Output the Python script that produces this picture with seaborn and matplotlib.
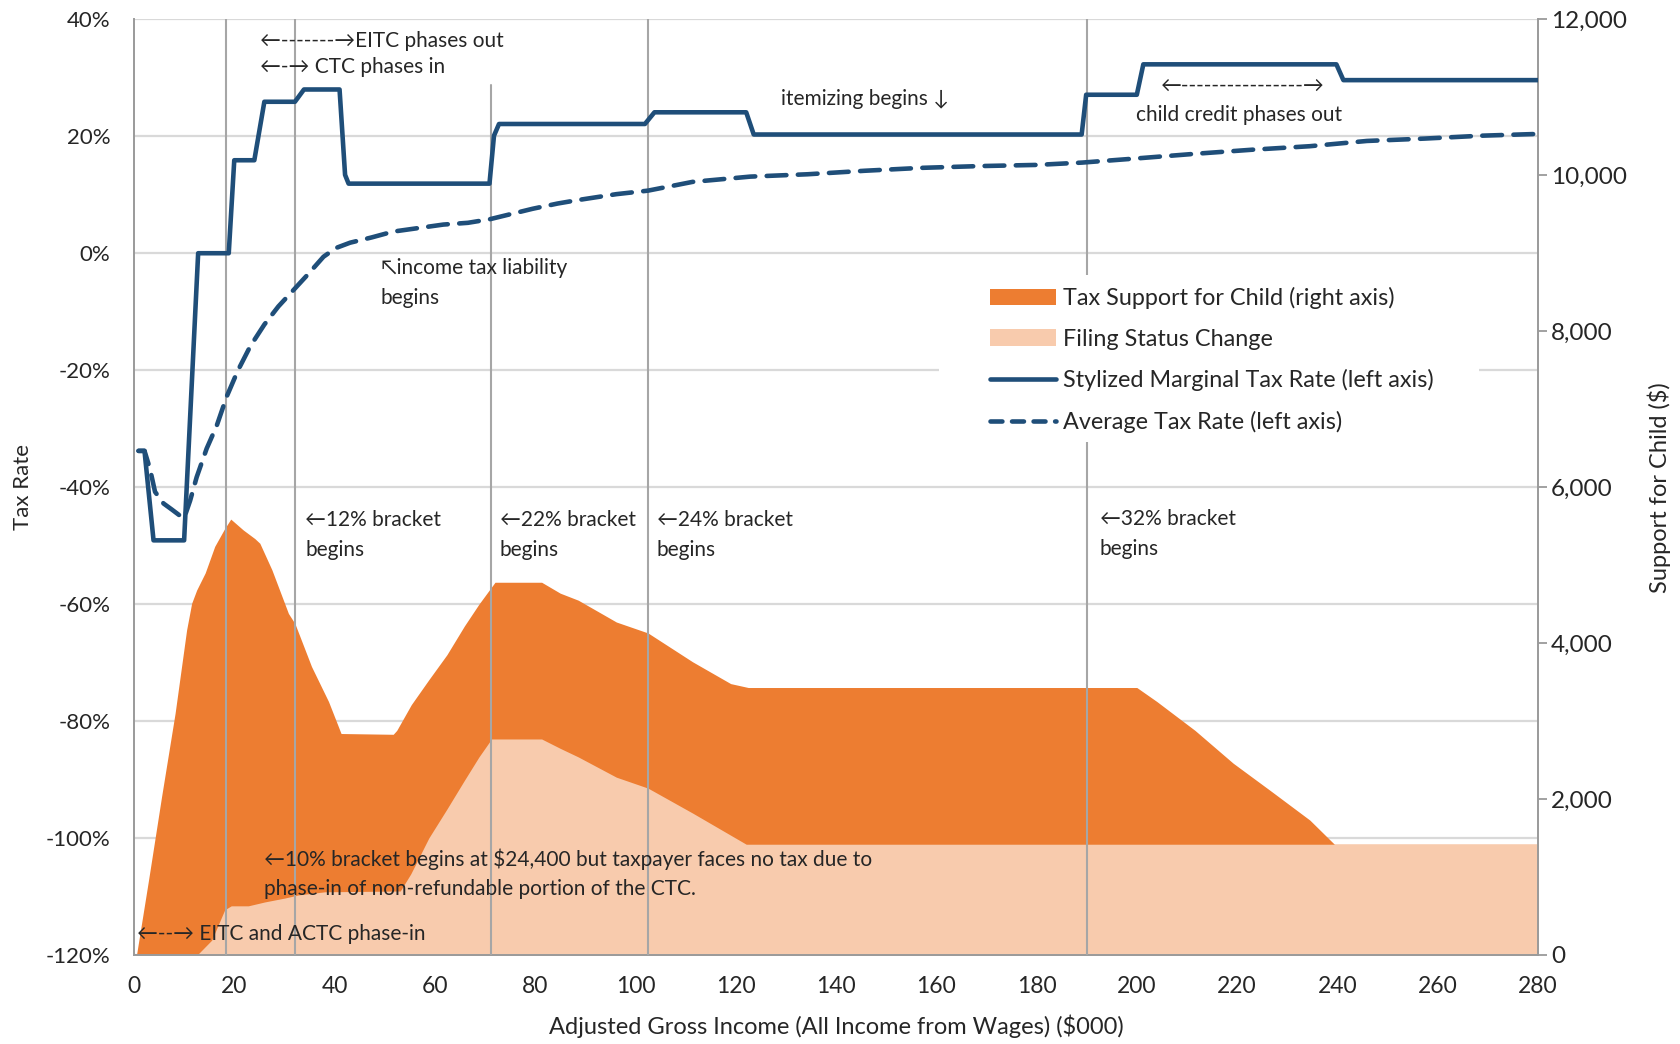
import matplotlib
matplotlib.use("Agg")
import matplotlib.pyplot as plt
import seaborn as sns
from matplotlib.patches import Patch, Rectangle
from matplotlib.lines import Line2D
from matplotlib.ticker import FuncFormatter

# ---------------- data (income in $000) ----------------
mtr_income = [0.9, 2.1, 3.9, 10.0, 12.8, 18.9, 20.0, 24.0, 26.0, 32.1, 33.9, 41.0, 42.1, 42.8,
              70.9, 71.8, 72.8, 101.9, 103.8, 122.1, 123.6, 189.0, 189.9, 200.0, 201.3,
              239.8, 241.2, 280.0]
mtr_rate = [-33.8, -33.8, -49.1, -49.1, 0.0, 0.0, 15.9, 15.9, 25.9, 25.9, 28.0, 28.0, 13.4, 11.9,
            11.9, 20.1, 22.1, 22.1, 24.1, 24.1, 20.3, 20.3, 27.1, 27.1, 32.3,
            32.3, 29.6, 29.6]

atr_income = [0.9, 2.1, 3.2, 4.2, 5.9, 7.5, 9.2, 10.0, 11.2, 12.5, 14.5, 16.5, 18.5, 20.7, 23.2,
              26.0, 28.8, 31.7, 34.6, 37.8, 40.3, 43.1, 47.4, 51.7, 56.7, 61.7, 66.6, 70.9,
              75.2, 79.5, 84.5, 88.6, 96.2, 102.5, 111.4, 122.9, 134.3, 145.7, 157.1, 168.6,
              180.0, 189.1, 199.8, 211.6, 223.0, 234.5, 245.9, 257.3, 268.8, 280.0]
atr_rate = [-33.8, -33.8, -36.9, -40.8, -42.8, -43.8, -44.9, -45.3, -42.3, -38.3, -33.4, -29.5,
            -24.5, -20.1, -15.9, -12.2, -9.1, -6.4, -3.7, -0.6, 0.9, 1.8, 2.7, 3.7, 4.3, 4.9,
            5.2, 5.8, 6.7, 7.6, 8.5, 9.1, 10.1, 10.7, 12.2, 13.1, 13.5, 14.1, 14.6, 14.9,
            15.1, 15.5, 16.2, 17.0, 17.7, 18.3, 19.2, 19.6, 20.1, 20.4]

support_income = [0.5, 2.9, 5.5, 8.2, 10.5, 11.5, 12.5, 14.2, 16.1, 18.1, 19.3, 21.8, 24.1, 25.1,
                  27.5, 30.8, 32.1, 35.4, 38.8, 41.3, 51.7, 52.4, 55.3, 58.8, 62.4, 65.9, 68.8,
                  72.0, 81.3, 85.0, 88.6, 96.2, 102.5, 111.4, 119.0, 122.5, 200.0, 204.0, 211.6,
                  219.2, 226.8, 234.5, 239.4, 280.0]
support_value = [0, 960, 2030, 3100, 4170, 4510, 4680, 4900, 5240, 5470, 5590, 5450, 5340, 5280,
                 4940, 4380, 4250, 3700, 3250, 2840, 2830, 2880, 3210, 3530, 3850, 4220, 4500,
                 4780, 4780, 4640, 4550, 4270, 4130, 3760, 3480, 3430, 3430, 3250, 2880,
                 2460, 2100, 1730, 1420, 1420]

filing_income = [12.6, 15.5, 18.1, 19.4, 22.8, 26.1, 30.1, 32.8, 38.1, 53.1, 55.2, 58.8, 62.4,
                 65.9, 68.8, 71.3, 81.3, 85.0, 88.6, 96.2, 102.5, 111.4, 122.1, 280.0]
filing_value = [0, 190, 580, 630, 630, 680, 730, 770, 810, 820, 1040, 1500, 1870,
                2240, 2540, 2770, 2770, 2650, 2540, 2280, 2140, 1820, 1420, 1420]

bracket_incomes = [18.3, 32.1, 71.3, 102.5, 190.0]

left_ticks = [-120, -100, -80, -60, -40, -20, 0, 20, 40]
right_ticks = [0, 2000, 4000, 6000, 8000, 10000, 12000]
x_ticks = list(range(0, 281, 20))

legend_labels = ["Tax Support for Child (right axis)", "Filing Status Change",
                 "Stylized Marginal Tax Rate (left axis)", "Average Tax Rate (left axis)"]

# ---------------- style ----------------
sns.set_style("white")
plt.rcParams["font.family"] = ["Lato", "DejaVu Sans"]

BLUE = "#1F4E79"
ORANGE = "#ED7D31"
PEACH = "#F8CBAD"
GRID = "#D9D9D9"
VLINE = "#A6A6A6"
SPINE = "#9A9A9A"
TXT = "#262626"
DASH = (4.3, 2.5)
LEG_DASH = (2.6, 2.1)

fig = plt.figure(figsize=(16.81, 10.44), dpi=100)
ax = fig.add_axes([0.0797, 0.0853, 0.8352, 0.8962])
ax2 = ax.twinx()
ax3 = ax.twinx()

# base axis: grid + left ticks + x ticks
ax.set_xlim(0, 280)
ax.set_ylim(-120, 40)
ax.set_yticks(left_ticks)
ax.yaxis.set_major_formatter(FuncFormatter(lambda v, p: f"{int(round(v))}%"))
ax.set_xticks(x_ticks)
ax.yaxis.grid(True, color=GRID, lw=1.6)
ax.xaxis.grid(False)
for s in ax.spines.values():
    s.set_visible(False)
ax.tick_params(axis="y", length=0, pad=17, labelsize=16, labelcolor=TXT)
ax.tick_params(axis="x", length=0, pad=15, labelsize=16.5, labelcolor=TXT)
ax.set_xlabel("Adjusted Gross Income (All Income from Wages) (\\$000)", fontsize=17, color=TXT)
ax.xaxis.set_label_coords(0.5, -0.064)
ax.xaxis.label.set_va("top")
ax.set_ylabel("Tax Rate", fontsize=16, color=TXT)
ax.yaxis.set_label_coords(-0.072, 0.5)

# areas on right axis
ax2.set_ylim(0, 12000)
ax2.fill_between(support_income, support_value, 0, color=ORANGE, lw=0)
ax2.fill_between(filing_income, filing_value, 0, color=PEACH, lw=0)
ax2.set_yticks(right_ticks)
ax2.yaxis.set_major_formatter(FuncFormatter(lambda v, p: f"{int(v):,}"))
ax2.tick_params(axis="y", length=6.5, width=1.3, color=SPINE, pad=3, labelsize=17.5,
                labelcolor=TXT, direction="out")
for k in ["left", "right", "bottom"]:
    ax2.spines[k].set_color(SPINE)
    ax2.spines[k].set_linewidth(1.4)
ax2.spines["top"].set_visible(False)
ax2.set_ylabel("Support for Child (\\$)", fontsize=17, color=TXT)
ax2.yaxis.set_label_coords(1.078, 0.5)

# lines / annotations axis
ax3.set_ylim(-120, 40)
ax3.set_xlim(0, 280)
ax3.axis("off")
vline_tops = [1.0, 1.0, 0.93, 1.0, 1.0]
for xb, top in zip(bracket_incomes, vline_tops):
    ax3.axvline(xb, ymin=0, ymax=top, color=VLINE, lw=1.5, zorder=1)

sns.lineplot(x=mtr_income, y=mtr_rate, ax=ax3, color=BLUE, lw=3.3, sort=False,
             estimator=None, legend=False, zorder=2)
sns.lineplot(x=atr_income, y=atr_rate, ax=ax3, color=BLUE, lw=3.3, sort=False,
             estimator=None, legend=False, zorder=2)
avg_line = ax3.lines[-1]
avg_line.set_dashes(DASH)
avg_line.set_dash_capstyle("round")
ax3.lines[-2].set_solid_joinstyle("round")

tk = dict(fontsize=15, color=TXT, ha="left", va="center", zorder=3, linespacing=1.6)
ax3.text(25.2, 36.3, "←-------→EITC phases out", **tk)
ax3.text(25.2, 31.8, "←-→ CTC phases in", **tk)
ax3.text(49.2, -5.1, "↖income tax liability\nbegins", **tk)
ax3.text(129.1, 26.3, "itemizing begins ↓", **tk)
ax3.text(204.7, 28.6, "←----------------→", **tk)
ax3.text(199.8, 23.7, "child credit phases out", **tk)
ax3.text(34.2, -48.2, "←12% bracket\nbegins", **tk)
ax3.text(72.9, -48.2, "←22% bracket\nbegins", **tk)
ax3.text(104.3, -48.2, "←24% bracket\nbegins", **tk)
ax3.text(192.6, -48.0, "←32% bracket\nbegins", **tk)
ax3.text(25.9, -106.1, "←10% bracket begins at \\$24,400 but taxpayer faces no tax due to\n"
         "phase-in of non-refundable portion of the CTC.", **tk)
ax3.text(0.6, -116.5, "←--→ EITC and ACTC phase-in", **tk)

# legend with white backing box
ax3.add_patch(Rectangle((0.5734, 0.5482), 0.3846, 0.1785, transform=ax3.transAxes,
                        facecolor="white", edgecolor="none", zorder=4))
handles = [Patch(facecolor=ORANGE, edgecolor="none"),
           Patch(facecolor=PEACH, edgecolor="none"),
           Line2D([], [], color=BLUE, lw=3.3, solid_capstyle="round"),
           Line2D([], [], color=BLUE, lw=3.3, dashes=LEG_DASH, dash_capstyle="round")]
leg = ax3.legend(handles, legend_labels, loc="upper left", bbox_to_anchor=(0.6097, 0.714),
                 frameon=False, fontsize=16.8, handlelength=2.85, handletextpad=0.28,
                 labelspacing=0.84, borderpad=0, borderaxespad=0)
leg.set_zorder(5)
for t in leg.get_texts():
    t.set_color(TXT)

fig.savefig("out.png", dpi=100)
